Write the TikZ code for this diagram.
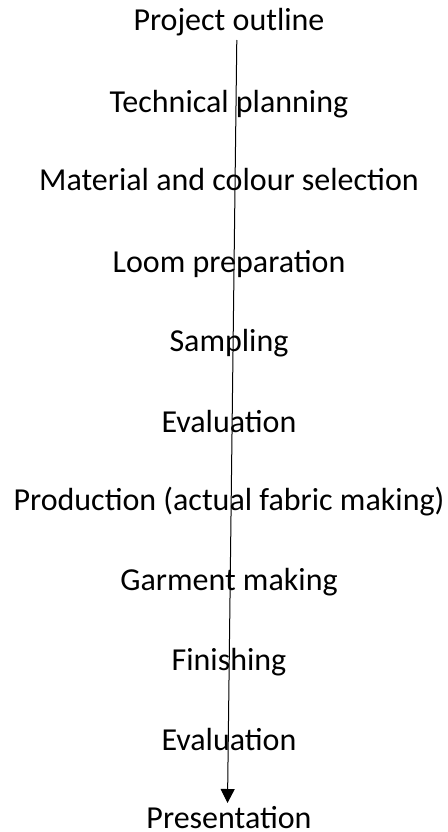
\documentclass[tikz,border=0pt]{standalone}
\usepackage{fontspec}
\setmainfont{Carlito}
\usetikzlibrary{arrows.meta}

\begin{document}
\begin{tikzpicture}
		[x=0.75pt,y=-0.75pt,every node/.style={inner sep=0pt,anchor=base,font=\fontsize{24}{29}\selectfont}]
		\useasboundingbox (0,0) rectangle (447,832);
		\foreach \name/\yy/\txt in {s1/30/Project outline,s2/112/Technical planning,s3/190/Material and colour selection,s4/272/Loom preparation,s5/351/Sampling,s6/432/Evaluation,s7/510/Production (actual fabric making),s8/590/Garment making,s9/670/Finishing,s10/750/Evaluation,s11/828/Presentation}
		\node (\name) at (229,\yy) {\txt};
		
		\coordinate (top) at (236.8,40);
		\coordinate (tip) at (227.5,803);
		\draw[line width=0.75pt,-{Triangle[length=10.5pt,width=10.5pt]}] (top) -- (tip);
		\end{tikzpicture}
\end{document}
